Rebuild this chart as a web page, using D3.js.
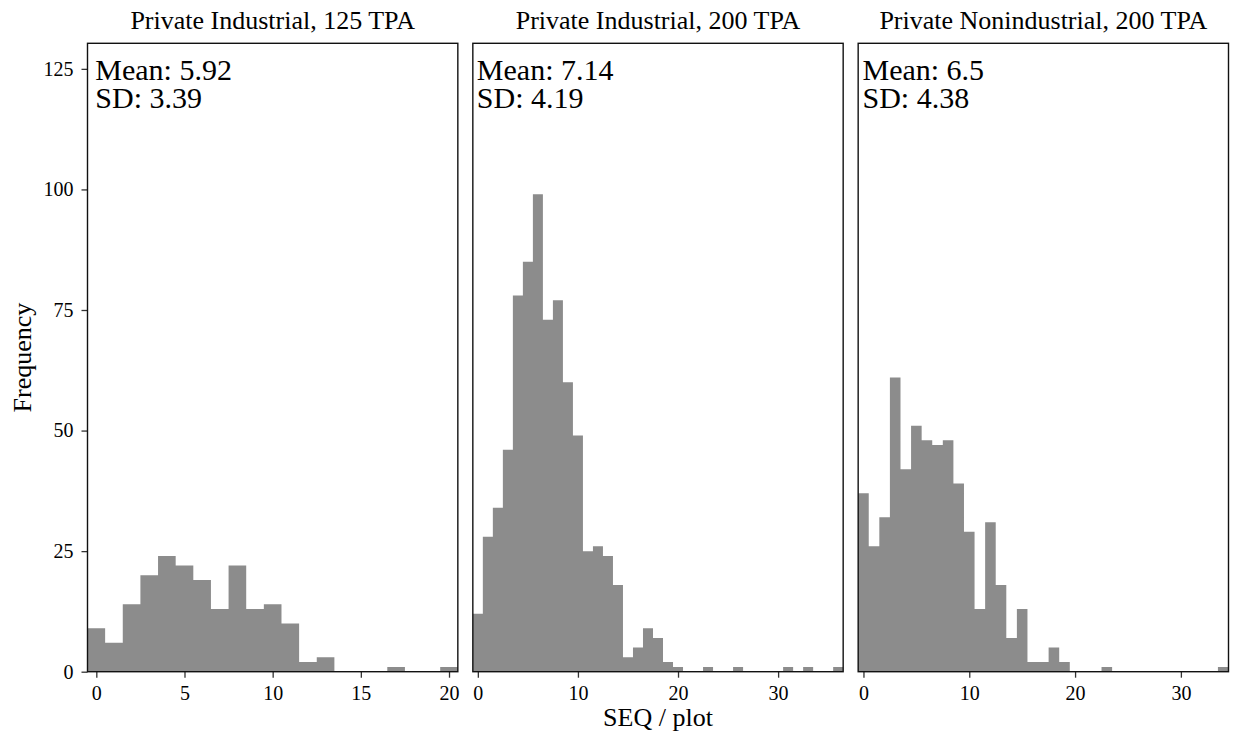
<!DOCTYPE html>
<html>
<head>
<meta charset="utf-8">
<script src="https://cdn.jsdelivr.net/npm/d3@7"></script>
<style>
  body { margin: 0; background: #fff; }
  svg text { font-family: "Liberation Serif", "Times New Roman", serif; fill: #000; }
</style>
</head>
<body>
<svg id="chart"></svg>
<script>
// facet titles
const PANELS = ['Private Industrial, 125 TPA', 'Private Industrial, 200 TPA', 'Private Nonindustrial, 200 TPA'];

// histogram counts, binwidth 1, first bin centred on 0
const COUNTS_PI_125 = [9, 6, 14, 20, 24, 22, 19, 13, 22, 13, 14, 10, 2, 3, 0, 0, 0, 1, 0, 0, 1];
const COUNTS_PI_200 = [12, 28, 34, 46, 78, 85, 99, 73, 77, 60, 49, 25, 26, 24, 18, 3, 5, 9, 7, 2,
                       1, 0, 0, 1, 0, 0, 1, 0, 0, 0, 0, 1, 0, 1, 0, 0, 1];
const COUNTS_PNI_200 = [37, 26, 32, 61, 42, 51, 48, 47, 48, 39, 29, 13, 31, 18, 7, 13, 2, 2, 5, 2,
                        0, 0, 0, 1, 0, 0, 0, 0, 0, 0, 0, 0, 0, 0, 1];

const MEANS = ['5.92', '7.14', '6.5'];
const SDS   = ['3.39', '4.19', '4.38'];

const X_TICKS = [[0, 5, 10, 15, 20], [0, 10, 20, 30], [0, 10, 20, 30]];
const Y_TICKS = [0, 25, 50, 75, 100, 125];
const Y_MAX = 130.3;

const W = 1233, H = 738;
const LEFT = 87.5, RIGHT = 1228.5, GAP = 15;
const TOP = 43.3, BOTTOM = 671.7;
const PW = (RIGHT - LEFT - 2 * GAP) / 3;

const svg = d3.select('#chart').attr('width', W).attr('height', H);

const y = d3.scaleLinear().domain([0, Y_MAX]).range([BOTTOM, TOP]);

const allCounts = [COUNTS_PI_125, COUNTS_PI_200, COUNTS_PNI_200];

allCounts.forEach((counts, i) => {
  const x0 = LEFT + i * (PW + GAP);
  const x = d3.scaleLinear()
    .domain([-0.5, counts.length - 0.5])
    .range([x0, x0 + PW]);

  const g = svg.append('g').attr('class', 'panel');

  // bars (stepped outline, so neighbouring bins show no seams)
  const bins = counts.map((n, k) => ({ k, n }));
  const area = d3.area()
    .curve(d3.curveStepAfter)
    .x(d => x(d.k - 0.5))
    .y0(y(0))
    .y1(d => y(d.n));
  g.append('path')
    .datum(bins.concat([{ k: counts.length, n: 0 }]))
    .attr('d', area)
    .attr('fill', '#8c8c8c');

  // x axis
  const xa = g.append('g')
    .attr('transform', `translate(0,${BOTTOM})`)
    .call(d3.axisBottom(x).tickValues(X_TICKS[i]).tickSize(6).tickPadding(8));
  xa.select('.domain').remove();
  xa.selectAll('line').attr('stroke', '#333').attr('stroke-width', 1.3);
  xa.selectAll('text').attr('font-size', 20).attr('fill', '#1a1a1a');

  if (i === 0) {
    const ya = g.append('g')
      .attr('transform', `translate(${x0},0)`)
      .call(d3.axisLeft(y).tickValues(Y_TICKS).tickSize(6).tickPadding(8));
    ya.select('.domain').remove();
    ya.selectAll('line').attr('stroke', '#333').attr('stroke-width', 1.3);
    ya.selectAll('text').attr('font-size', 20).attr('fill', '#1a1a1a');
  }

  // panel border
  g.append('rect')
    .attr('x', x0).attr('y', TOP)
    .attr('width', PW).attr('height', BOTTOM - TOP)
    .attr('fill', 'none')
    .attr('stroke', '#111')
    .attr('stroke-width', 1.4);

  // strip title
  g.append('text')
    .attr('x', x0 + PW / 2).attr('y', 29)
    .attr('text-anchor', 'middle')
    .attr('font-size', 26)
    .text(PANELS[i]);

  // mean / sd note, two lines in one text block
  const note = g.append('text')
    .attr('x', x(0) - 1).attr('y', 80)
    .attr('font-size', 30);
  note.append('tspan')
    .attr('x', x(0) - 1)
    .text(`Mean: ${MEANS[i]}`);
  note.append('tspan')
    .attr('x', x(0) - 1).attr('dy', 28)
    .text(`SD: ${SDS[i]}`);
});

// axis titles
svg.append('text')
  .attr('x', (LEFT + RIGHT) / 2).attr('y', 726)
  .attr('text-anchor', 'middle')
  .attr('font-size', 26)
  .text('SEQ / plot');

svg.append('text')
  .attr('transform', `translate(31,${(TOP + BOTTOM) / 2}) rotate(-90)`)
  .attr('text-anchor', 'middle')
  .attr('font-size', 26)
  .text('Frequency');
</script>
</body>
</html>
